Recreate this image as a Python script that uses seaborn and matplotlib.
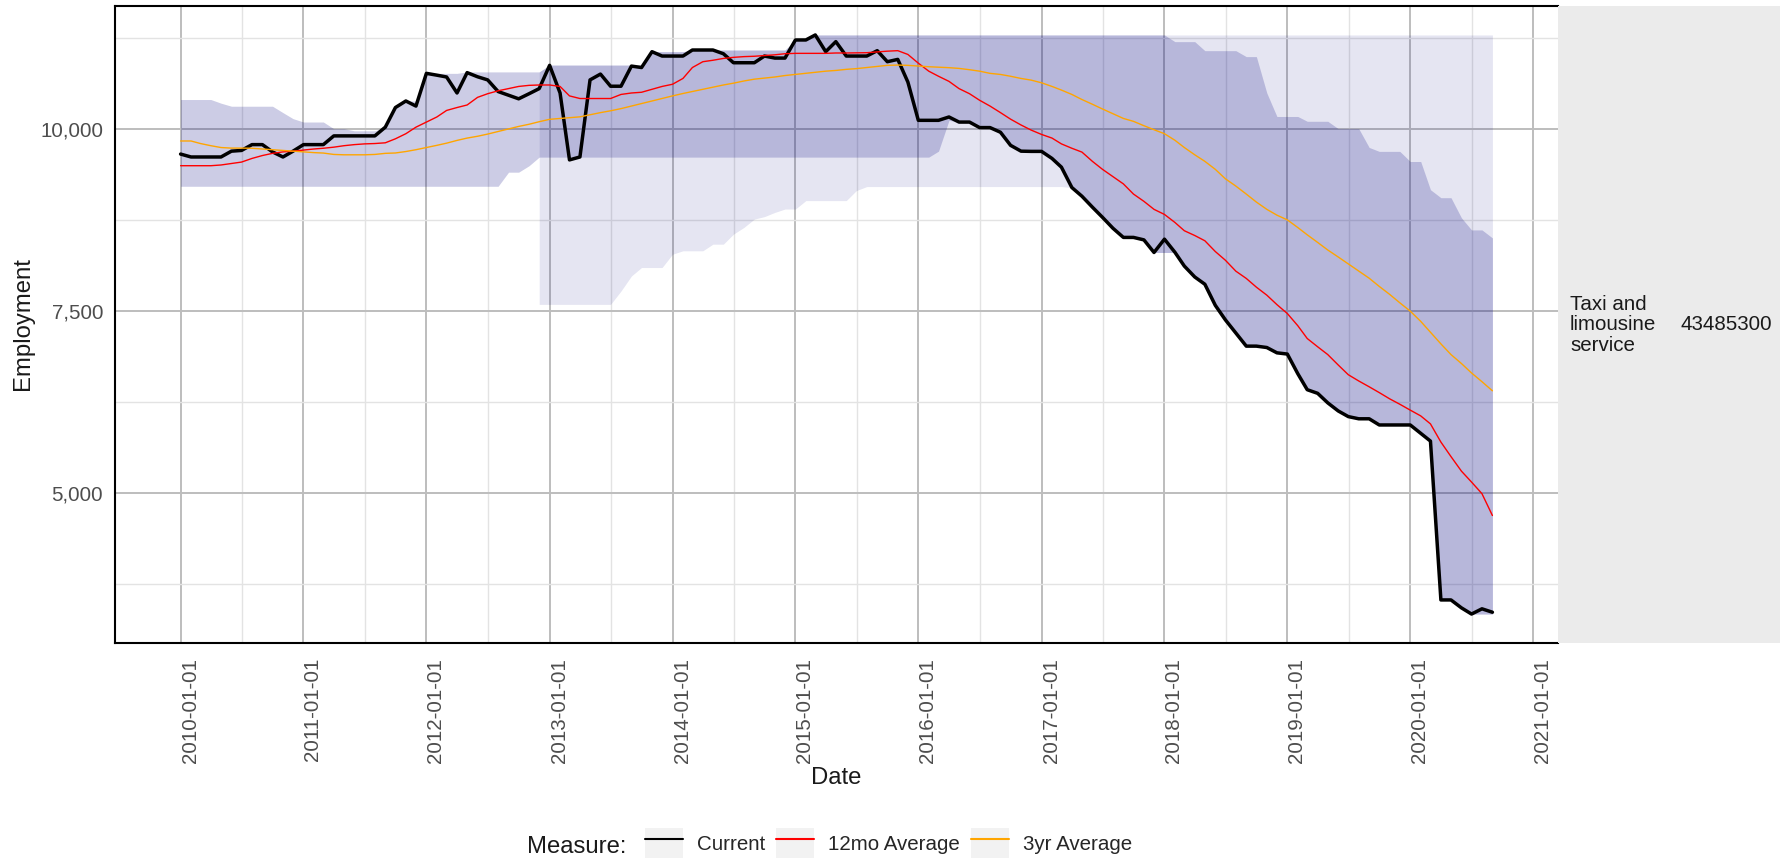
import numpy as np
import pandas as pd
import seaborn as sns
import matplotlib.pyplot as plt
import matplotlib.dates as mdates
from matplotlib.patches import Rectangle
from matplotlib.lines import Line2D
from matplotlib.legend_handler import HandlerTuple

# monthly values, 2010-01 .. 2020-09
dates = pd.date_range("2010-01-01", "2020-09-01", freq="MS")

current = [9660, 9620, 9620, 9620, 9620, 9700, 9710, 9790, 9790, 9690,
           9620, 9700, 9790, 9790, 9790, 9910, 9910, 9910, 9910, 9910,
           10030, 10300, 10390, 10320, 10770, 10745, 10720, 10500, 10780, 10723,
           10680, 10520, 10470, 10420, 10490, 10560, 10880, 10500, 9580, 9620,
           10680, 10760, 10593, 10593, 10870, 10850, 11068, 11008, 11008, 11008,
           11091, 11091, 11091, 11040, 10916, 10916, 10916, 11008, 10980, 10980,
           11229, 11229, 11298, 11068, 11206, 11008, 11008, 11008, 11082, 10930,
           10962, 10650, 10124, 10124, 10124, 10170, 10100, 10100, 10024, 10024,
           9960, 9780, 9700, 9697, 9697, 9600, 9480, 9200, 9080, 8930,
           8790, 8640, 8514, 8514, 8480, 8307, 8490, 8310, 8120, 7970,
           7870, 7580, 7380, 7200, 7019, 7019, 7000, 6927, 6910, 6640,
           6420, 6370, 6239, 6128, 6050, 6020, 6020, 5935, 5935, 5935,
           5935, 5820, 5713, 3529, 3529, 3420, 3335, 3407, 3360]

avg_12mo = [9500, 9500, 9500, 9500, 9510, 9530, 9550, 9600, 9640, 9670,
            9690, 9700, 9715, 9730, 9740, 9755, 9775, 9790, 9800, 9805,
            9815, 9870, 9940, 10030, 10100, 10170, 10260, 10300, 10335, 10440,
            10490, 10530, 10560, 10590, 10605, 10610, 10610, 10590, 10460, 10424,
            10424, 10424, 10424, 10480, 10500, 10510, 10550, 10590, 10620, 10700,
            10850, 10930, 10950, 10975, 10990, 11000, 11005, 11015, 11025, 11040,
            11045, 11045, 11045, 11045, 11050, 11050, 11052, 11054, 11065, 11075,
            11082, 11030, 10910, 10800, 10730, 10660, 10560, 10490, 10400, 10320,
            10230, 10140, 10060, 9990, 9930, 9880, 9800, 9740, 9687, 9560,
            9450, 9350, 9250, 9110, 9010, 8900, 8830, 8720, 8606, 8540,
            8468, 8320, 8200, 8050, 7950, 7830, 7720, 7590, 7467, 7300,
            7124, 7010, 6903, 6760, 6626, 6540, 6460, 6380, 6294, 6220,
            6139, 6060, 5950, 5700, 5500, 5300, 5150, 4990, 4690]

avg_3yr = [9840, 9840, 9805, 9775, 9750, 9742, 9742, 9740, 9730, 9720,
           9710, 9700, 9690, 9680, 9674, 9655, 9650, 9650, 9650, 9655,
           9670, 9675, 9695, 9720, 9750, 9780, 9810, 9848, 9880, 9905,
           9935, 9970, 10005, 10040, 10070, 10105, 10138, 10150, 10160, 10172,
           10200, 10230, 10255, 10285, 10320, 10355, 10390, 10425, 10460, 10493,
           10520, 10550, 10580, 10610, 10635, 10665, 10690, 10705, 10720, 10740,
           10755, 10770, 10785, 10800, 10810, 10825, 10835, 10850, 10865, 10880,
           10884, 10880, 10870, 10861, 10855, 10848, 10838, 10820, 10800, 10770,
           10755, 10730, 10700, 10677, 10640, 10590, 10540, 10480, 10410, 10345,
           10280, 10215, 10150, 10110, 10050, 9995, 9940, 9850, 9750, 9650,
           9560, 9450, 9320, 9220, 9110, 9000, 8900, 8820, 8755, 8650,
           8550, 8445, 8341, 8245, 8150, 8050, 7953, 7840, 7730, 7615,
           7500, 7360, 7210, 7050, 6903, 6780, 6650, 6530, 6405]

# darker band (whole period)
band_a_lo = ([9217] * 32 + [9411, 9411, 9500] + [9618] * 39 +
             [9700, 10124, 10100, 10100, 10024, 10024, 9960, 9780, 9700, 9697,
              9697, 9600, 9480, 9200, 9080, 8930, 8790, 8640, 8514, 8514,
              8480, 8307, 8307, 8307, 8120, 7970, 7870, 7580, 7380, 7200,
              7019, 7019, 7000, 6927, 6910, 6640, 6420, 6370, 6239, 6128,
              6050, 6020, 6020, 5935, 5935, 5935, 5935, 5820, 5713, 3529,
              3529, 3420, 3335, 3335, 3335])
band_a_hi = ([10410] * 4 + [10360] + [10318] * 5 + [10230, 10147] + [10101] * 3 +
             [10009] * 2 + [9980] * 3 + [10030, 10300, 10390, 10390] + [10770] * 4 +
             [10790] * 8 + [10884] * 10 + [11068] * 4 + [11091] * 10 + [11229] * 2 +
             [11298] * 35 + [11206] * 3 + [11082] * 4 + [11000] * 2 + [10500] +
             [10177] * 3 + [10111] * 3 + [10010] * 3 + [9751] + [9697] * 3 +
             [9558] * 2 + [9170] + [9060] * 2 + [8783] + [8617] * 2 + [8507])

# lighter band, from 2012-12
dates_b = pd.date_range("2012-12-01", "2020-09-01", freq="MS")
band_b_lo = ([7593] * 8 + [7777, 7984] + [8100] * 3 + [8283] + [8330] * 3 +
             [8421] * 2 + [8559, 8651, 8766, 8800, 8858] + [8904] * 2 +
             [9020] * 5 + [9158] + [9213] * 20 + band_a_lo[87:])
band_b_hi = ([10790] + [10884] * 10 + [11068] * 4 + [11091] * 10 + [11229] * 2 +
             [11298] * 67)

x_ticks = pd.date_range("2010-01-01", "2021-01-01", freq="YS")
y_ticks = [5000, 7500, 10000]
y_minor = [3750, 6250, 8750, 11250]

W, H = 1781, 860

sns.set_style("white")
plt.rcParams["font.family"] = ["Liberation Sans", "DejaVu Sans"]

fig = plt.figure(figsize=(W / 100, H / 100), dpi=100)
ax = fig.add_axes([115 / W, 1 - 643 / H, (1558 - 115) / W, (643 - 6) / H])
ax.set_axisbelow(True)

ax.fill_between(dates, band_a_lo, band_a_hi, color="navy", alpha=0.2, lw=0)
ax.fill_between(dates_b, band_b_lo, band_b_hi, color="navy", alpha=0.1, lw=0)

sns.lineplot(x=dates, y=current, color="black", lw=2.5, ax=ax)
sns.lineplot(x=dates, y=avg_12mo, color="red", lw=1.0, ax=ax)
sns.lineplot(x=dates, y=avg_3yr, color="orange", lw=1.0, ax=ax)
for ln in ax.lines:
    ln.set_solid_joinstyle("round")

# ggplot style 5% expansion
d0, d1 = mdates.date2num(dates[0]), mdates.date2num(dates[-1])
ax.set_xlim(d0 - 0.05 * (d1 - d0), d1 + 0.05 * (d1 - d0))
lo = min(band_a_lo)
hi = max(band_b_hi)
ax.set_ylim(lo - 0.05 * (hi - lo), hi + 0.05 * (hi - lo))

xt = mdates.date2num(x_ticks)
ax.set_xticks(xt)
ax.set_xticks((xt[:-1] + xt[1:]) / 2, minor=True)
ax.set_xticklabels([d.strftime("%Y-%m-%d") for d in x_ticks],
                   rotation=90, ha="left", va="top")
ax.set_yticks(y_ticks)
ax.set_yticks(y_minor, minor=True)
ax.set_yticklabels([f"{v:,}" for v in y_ticks])

ax.tick_params(which="major", length=4.6, width=1.0, color="#333333",
               labelsize=14.8, labelcolor="#4D4D4D")
ax.tick_params(axis="x", pad=6)
ax.tick_params(axis="y", pad=4)
ax.tick_params(which="minor", length=0)

ax.grid(True, which="major", color="#BDBDBD", lw=1.4)
ax.grid(True, which="minor", color="#E3E3E3", lw=1.0)

for side in ["top", "left", "bottom"]:
    ax.spines[side].set_color("black")
    ax.spines[side].set_linewidth(1.5)
ax.spines["right"].set_visible(False)
ax.set_xlabel("")
ax.set_ylabel("")

# facet strip on the right
fig.add_artist(Rectangle((1558 / W, 1 - 643 / H), (W - 1558) / W, (643 - 6) / H,
                         transform=fig.transFigure, fc="#EBEBEB", ec="none"))
fig.text(1570 / W, 1 - 325 / H, "Taxi and\nlimousine\nservice", fontsize=14.8,
         color="#1A1A1A", ha="left", va="center", linespacing=1.1)
fig.text(1681 / W, 1 - 325 / H, "43485300", fontsize=14.8,
         color="#1A1A1A", ha="left", va="center")

fig.text((115 + 1558) / 2 / W, 1 - 778 / H, "Date", fontsize=17.2,
         color="#1A1A1A", ha="center", va="center")
fig.text(23 / W, 1 - 324 / H, "Employment", fontsize=17.2, rotation=90,
         color="#1A1A1A", ha="center", va="center")

# legend
fig.text(527 / W, 1 - 847 / H, "Measure:", fontsize=17.2, color="#1A1A1A",
         ha="left", va="center")
handles = []
for c in ["black", "red", "orange"]:
    handles.append((Rectangle((0, 0), 1, 1, fc="#F2F2F2", ec="none"),
                    Line2D([], [], color=c, lw=1.5)))
fig.legend(handles, ["Current", "12mo Average", "3yr Average"],
           handler_map={tuple: HandlerTuple(ndivide=1, pad=0)},
           ncol=3, loc="center left", bbox_to_anchor=(645 / W, 1 - 843 / H),
           frameon=False, fontsize=14.8, handlelength=1.85, handleheight=1.8,
           handletextpad=0.68, columnspacing=0.53, borderpad=0, borderaxespad=0)

fig.savefig("out.png", dpi=100)
